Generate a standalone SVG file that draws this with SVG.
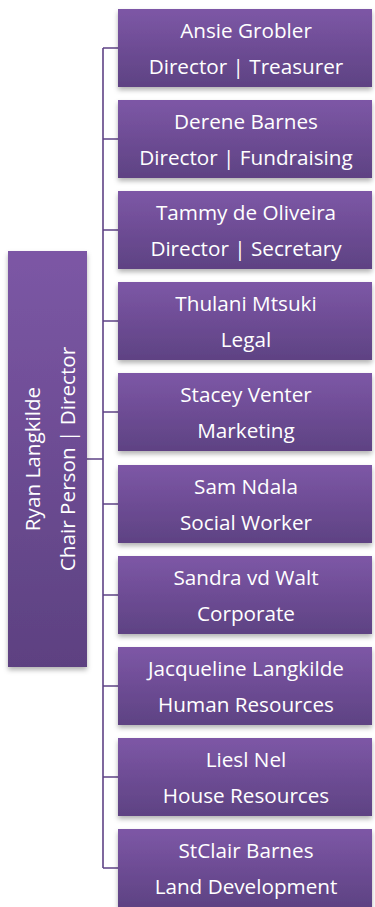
<svg xmlns="http://www.w3.org/2000/svg" width="375" height="907" viewBox="0 0 375 907">
<style>
.n{fill:url(#g);filter:url(#sh)}
.t{font-family:"Open Sans","Liberation Sans",sans-serif;font-size:20.7px;fill:#fff;text-anchor:middle}
.c{stroke:#5f4386;stroke-width:1.6;fill:none}
</style>
<defs>
<linearGradient id="g" x1="0" y1="0" x2="0" y2="1">
<stop offset="0" stop-color="#7d57a6"/>
<stop offset="1" stop-color="#5e4283"/>
</linearGradient>
<linearGradient id="gl" x1="0" y1="0" x2="0" y2="1">
<stop offset="0" stop-color="#7c57a5"/>
<stop offset="1" stop-color="#5d4181"/>
</linearGradient>
<filter id="sh" x="-10%" y="-10%" width="120%" height="130%">
<feDropShadow dx="0" dy="3" stdDeviation="2.5" flood-color="#000" flood-opacity="0.3"/>
</filter>
</defs>
<g id="connectors">
<path class="c" d="M103 48V868M87 459H103M103 48H118M103 139H118M103 230H118M103 321H118M103 412H118M103 504H118M103 595H118M103 686H118M103 777H118M103 868H118"/>
</g>
<g id="n0"><rect x="8" y="251" width="79" height="416" fill="url(#gl)" filter="url(#sh)"/>
<text class="t" transform="translate(40 459) rotate(-90)">Ryan Langkilde</text>
<text class="t" transform="translate(75 459) rotate(-90)">Chair Person | Director</text></g>
<g id="n1"><rect class="n" x="118" y="9" width="254" height="78"/><text class="t" x="246" y="38">Ansie Grobler</text><text class="t" x="246" y="74">Director | Treasurer</text></g>
<g id="n2"><rect class="n" x="118" y="100" width="254" height="78"/><text class="t" x="246" y="129">Derene Barnes</text><text class="t" x="246" y="165">Director | Fundraising</text></g>
<g id="n3"><rect class="n" x="118" y="191" width="254" height="78"/><text class="t" x="246" y="220">Tammy de Oliveira</text><text class="t" x="246" y="256">Director | Secretary</text></g>
<g id="n4"><rect class="n" x="118" y="282" width="254" height="78"/><text class="t" x="246" y="311">Thulani Mtsuki</text><text class="t" x="246" y="347">Legal</text></g>
<g id="n5"><rect class="n" x="118" y="373" width="254" height="78"/><text class="t" x="246" y="402">Stacey Venter</text><text class="t" x="246" y="438">Marketing</text></g>
<g id="n6"><rect class="n" x="118" y="465" width="254" height="78"/><text class="t" x="246" y="494">Sam Ndala</text><text class="t" x="246" y="530">Social Worker</text></g>
<g id="n7"><rect class="n" x="118" y="556" width="254" height="78"/><text class="t" x="246" y="585">Sandra vd Walt</text><text class="t" x="246" y="621">Corporate</text></g>
<g id="n8"><rect class="n" x="118" y="647" width="254" height="78"/><text class="t" x="246" y="676">Jacqueline Langkilde</text><text class="t" x="246" y="712">Human Resources</text></g>
<g id="n9"><rect class="n" x="118" y="738" width="254" height="78"/><text class="t" x="246" y="767">Liesl Nel</text><text class="t" x="246" y="803">House Resources</text></g>
<g id="n10"><rect class="n" x="118" y="829" width="254" height="78"/><text class="t" x="246" y="858">StClair Barnes</text><text class="t" x="246" y="894">Land Development</text></g>
</svg>
